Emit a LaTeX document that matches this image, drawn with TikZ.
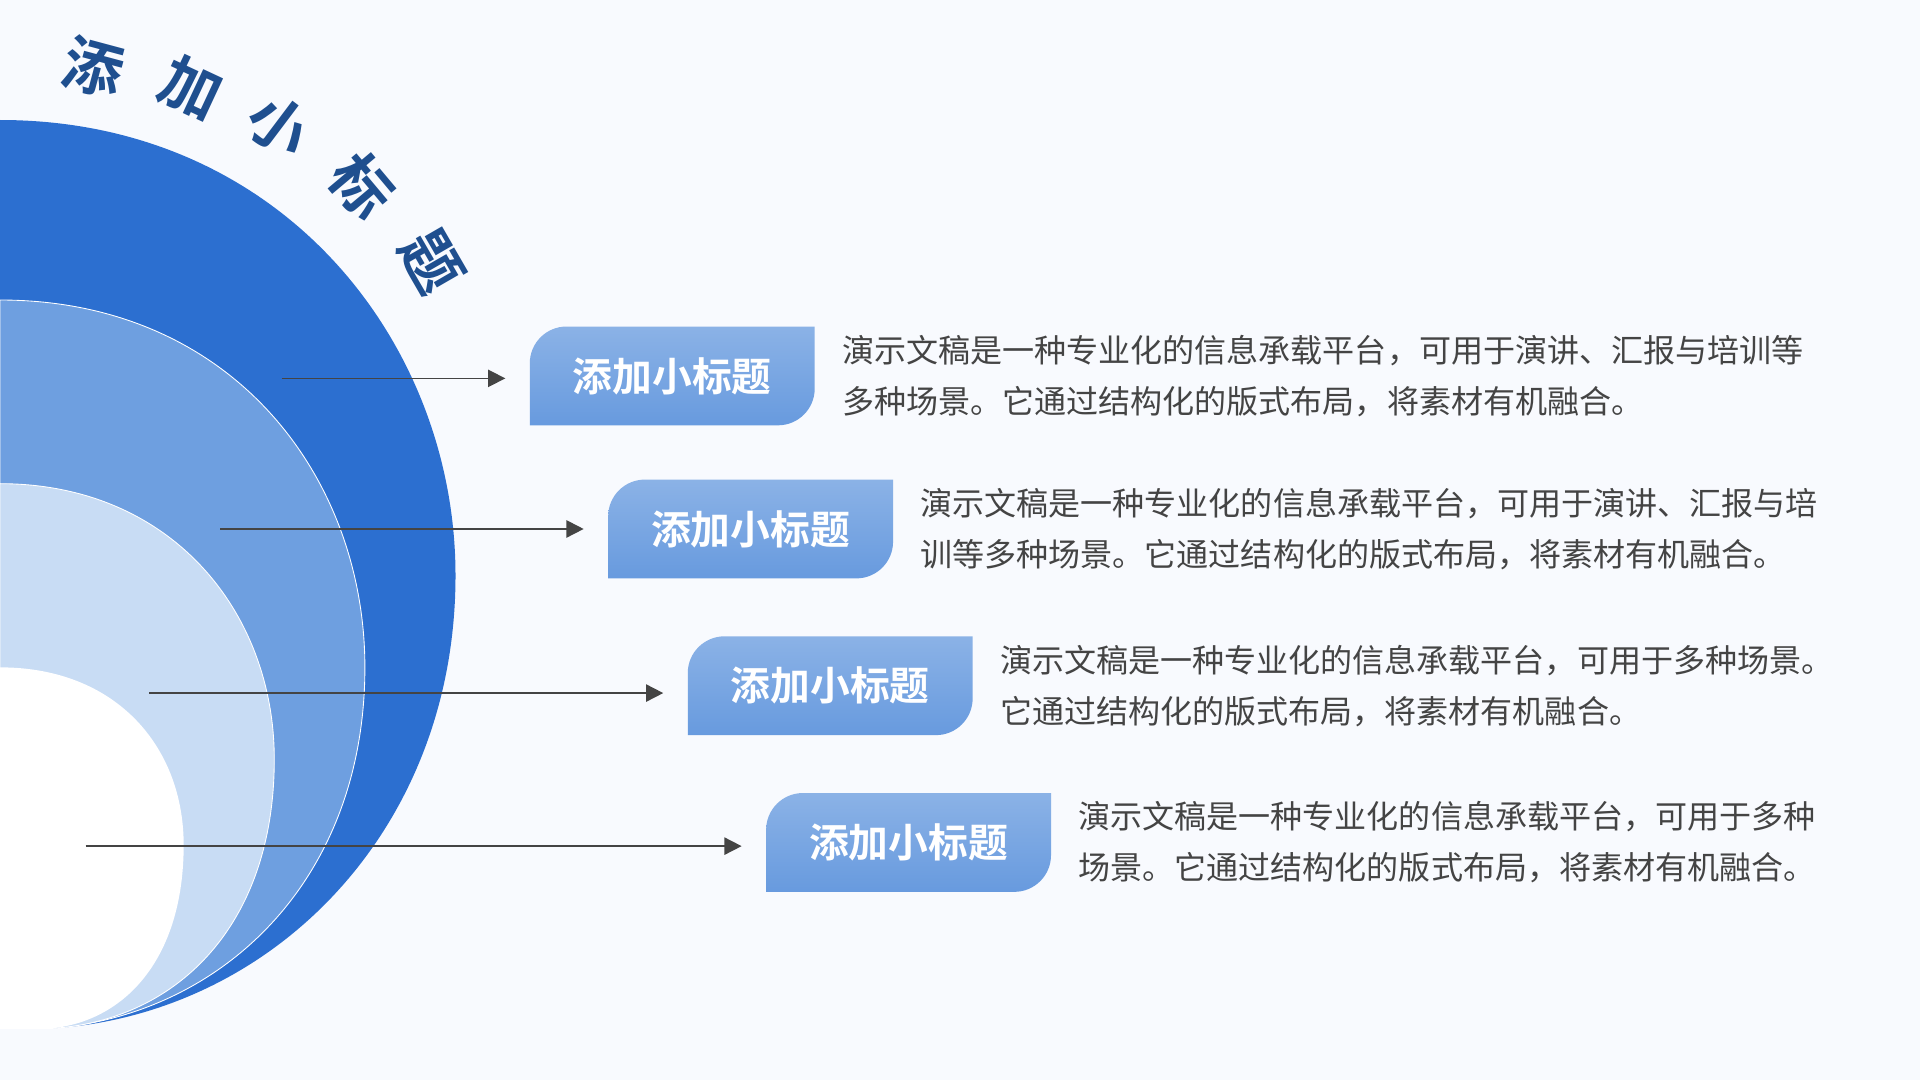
\documentclass[tikz,border=0pt]{standalone}
\usepackage{fontspec}
\newfontfamily\cjk[BoldFont={Noto Sans CJK SC Bold}]{Noto Sans CJK SC}
\usetikzlibrary{positioning,backgrounds,arrows.meta}
\definecolor{bgc}{HTML}{F8FAFE}
\definecolor{darkblue}{HTML}{2C6FD0}
\definecolor{midblue}{HTML}{6E9FE0}
\definecolor{lightblue}{HTML}{C8DCF4}
\definecolor{titleblue}{HTML}{1F4F8F}
\definecolor{txtgray}{HTML}{444444}
\begin{document}
\begin{tikzpicture}[x=0.02cm,y=-0.02cm,
        tag/.style = {minimum width=4.64cm, minimum height=1.6cm, inner sep=0pt,
            font=\cjk\bfseries\fontsize{18.5pt}{20pt}\selectfont, text=white},
        desc/.style = {anchor=west, inner sep=0pt, align=left, text=txtgray,
            font=\cjk\fontsize{14.9pt}{23.8pt}\selectfont},
        arrow/.style = {draw=txtgray, thick, -{Triangle[length=8pt,width=8pt]}, shorten >= 0.4cm},
        heading/.style = {text=titleblue, font=\cjk\bfseries\fontsize{28pt}{30pt}\selectfont}
        ]
        \begin{pgfonlayer}{background}
        \fill[bgc] (0,0) rectangle (1568,882);
        \end{pgfonlayer}
        \useasboundingbox (0,0) rectangle (1568,882);

        % crescents
        \fill[darkblue] (0,98) .. controls (230,98) and (372,280) .. (372,470)
            .. controls (372,680) and (220,830) .. (40,840) -- (0,840) -- cycle;
        \filldraw[midblue, draw=white, thin] (0,245) .. controls (190,245) and (298,390) .. (298,545)
            .. controls (298,720) and (180,830) .. (40,840) -- (0,840) -- cycle;
        \filldraw[lightblue, draw=white, thin] (0,395) .. controls (140,395) and (224,500) .. (224,620)
            .. controls (224,760) and (140,835) .. (40,840) -- (0,840) -- cycle;
        \fill[white] (0,545) .. controls (95,545) and (150,610) .. (150,690)
            .. controls (150,785) and (100,835) .. (40,840) -- (0,840) -- cycle;

        % heading along the arc
        \node[heading, rotate=-15] (h1) at (76,55) {添};
        \node[heading, rotate=-25] (h2) at (156,72) {加};
        \node[heading, rotate=-37] (h3) at (228,103) {小};
        \node[heading, rotate=-50] (h4) at (296,152) {标};
        \node[heading, rotate=-60] (h5) at (352,214) {题};

        % tags
        \node[tag] (b1) at (549,307) {添加小标题};
        \node[tag] (b2) at (613,432) {添加小标题};
        \node[tag] (b3) at (678,560) {添加小标题};
        \node[tag] (b4) at (742,688) {添加小标题};

        \begin{pgfonlayer}{background}
        \foreach \b in {b1,b2,b3,b4}
            \shade[top color=midblue!80!white, bottom color=midblue!90!darkblue]
                (\b.south west) [rounded corners=0.6cm] -- (\b.north west) [sharp corners]
                -- (\b.north east) [rounded corners=0.6cm] -- (\b.south east) [sharp corners] -- cycle;
        \end{pgfonlayer}

        \node[desc, right=0.44cm of b1] (t1) {演示文稿是一种专业化的信息承载平台，可用于演讲、汇报与培训等\\多种场景。它通过结构化的版式布局，将素材有机融合。};
        \node[desc, right=0.44cm of b2] (t2) {演示文稿是一种专业化的信息承载平台，可用于演讲、汇报与培\\训等多种场景。它通过结构化的版式布局，将素材有机融合。};
        \node[desc, right=0.44cm of b3] (t3) {演示文稿是一种专业化的信息承载平台，可用于多种场景。\\它通过结构化的版式布局，将素材有机融合。};
        \node[desc, right=0.44cm of b4] (t4) {演示文稿是一种专业化的信息承载平台，可用于多种\\场景。它通过结构化的版式布局，将素材有机融合。};

        % arrows
        \coordinate (a1) at (230,309);
        \coordinate (a2) at (180,432);
        \coordinate (a3) at (122,566);
        \coordinate (a4) at (70,691);
        \draw[arrow] (a1) -- (a1 -| b1.west);
        \draw[arrow] (a2) -- (a2 -| b2.west);
        \draw[arrow] (a3) -- (a3 -| b3.west);
        \draw[arrow] (a4) -- (a4 -| b4.west);
    \end{tikzpicture}
\end{document}
